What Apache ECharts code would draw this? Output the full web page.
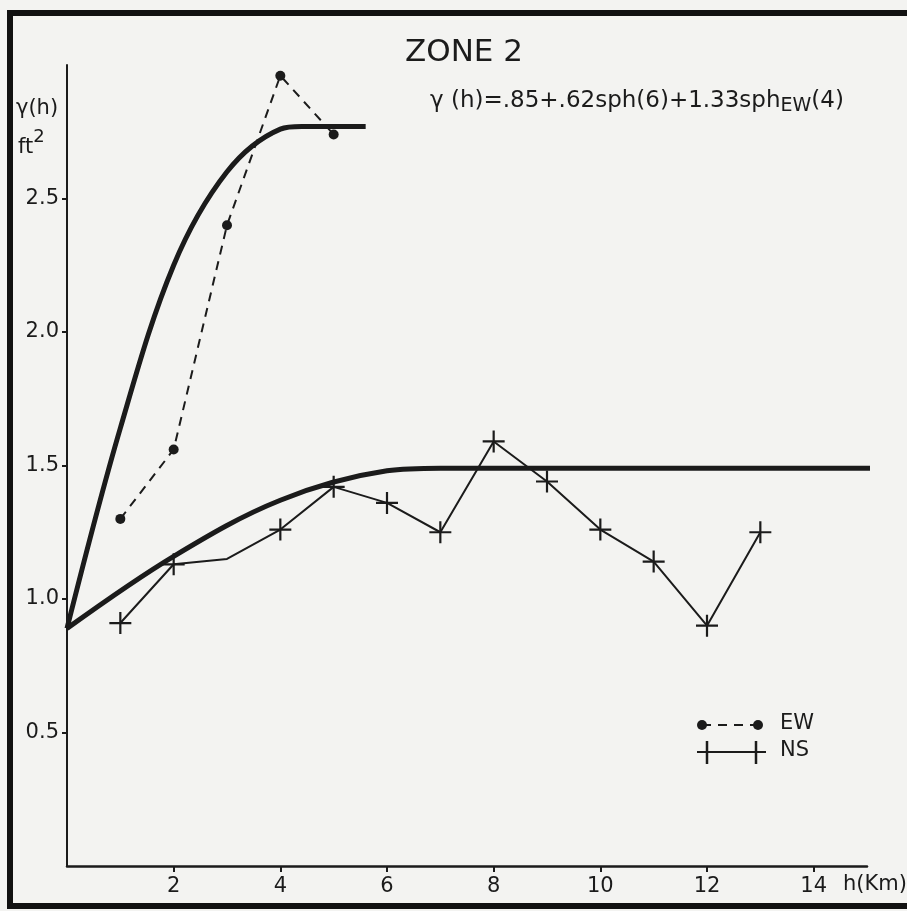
<!DOCTYPE html>
<html>
<head>
<meta charset="utf-8">
<script src="https://cdn.jsdelivr.net/npm/echarts@6/dist/echarts.min.js"></script>
<style>
  html, body { margin: 0; padding: 0; background: #f3f3f1; }
  #chart { width: 907px; height: 911px; }
</style>
</head>
<body>
<div id="chart"></div>
<script>
// lags in km
const ewLags = [1, 2, 3, 4, 5]
const ewValues = [1.30, 1.56, 2.40, 2.96, 2.74]

const nsLags = [1, 2, 3, 4, 5, 6, 7, 8, 9, 10, 11, 12, 13]
const nsValues = [0.91, 1.13, 1.15, 1.26, 1.42, 1.36, 1.25, 1.59, 1.44, 1.26, 1.14, 0.90, 1.25]

// fitted model curves
const ewModelLags = [0, 1, 2, 3, 4, 4.4, 5.6]
const ewModelValues = [0.89, 1.64, 2.25, 2.60, 2.76, 2.77, 2.77]

const nsModelLags = [0, 2, 4, 6, 7, 15.4]
const nsModelValues = [0.89, 1.16, 1.37, 1.48, 1.49, 1.49]

const xTicks = [2, 4, 6, 8, 10, 12, 14]
const yTicks = [0.5, 1.0, 1.5, 2.0, 2.5]

const ink = '#1b1b1b'
const font = 'DejaVu Sans'
const plusPath = 'path://M0,9H20V11H0ZM9,0H11V20H9Z'

const pairs = (xs, ys) => xs.map((x, i) => [x, ys[i]])

const chart = echarts.init(document.getElementById('chart'))

const nsData = pairs(nsLags, nsValues).map((p, i) =>
  nsLags[i] === 3 ? { value: p, symbol: 'none' } : p
)

const option = {
  backgroundColor: '#f3f3f1',
  animation: false,
  grid: { left: 67, right: 40, top: 65, bottom: 45 },
  xAxis: {
    type: 'value',
    min: 0,
    max: 15,
    axisLine: { lineStyle: { color: ink, width: 2.5 } },
    axisTick: { show: true, length: 6, customValues: xTicks, lineStyle: { color: ink, width: 2 } },
    axisLabel: { customValues: xTicks, color: ink, fontFamily: font, fontSize: 21, margin: 10 },
    splitLine: { show: false }
  },
  yAxis: {
    type: 'value',
    min: 0,
    max: 3,
    axisLine: { show: true, lineStyle: { color: ink, width: 2 } },
    axisTick: { show: true, length: 5, customValues: yTicks, lineStyle: { color: ink, width: 2 } },
    axisLabel: {
      customValues: yTicks,
      color: ink, fontFamily: font, fontSize: 21, margin: 8,
      formatter: v => v.toFixed(1)
    },
    splitLine: { show: false }
  },
  series: [
    {
      name: 'EW model',
      type: 'line',
      data: pairs(ewModelLags, ewModelValues),
      smooth: 0.35,
      symbol: 'none',
      lineStyle: { color: ink, width: 5 }
    },
    {
      name: 'NS model',
      type: 'line',
      data: pairs(nsModelLags, nsModelValues),
      smooth: 0.35,
      clip: false,
      symbol: 'none',
      lineStyle: { color: ink, width: 5 }
    },
    {
      name: 'EW',
      type: 'line',
      data: pairs(ewLags, ewValues),
      symbol: 'circle',
      symbolSize: 10,
      itemStyle: { color: ink },
      lineStyle: { color: ink, width: 2, type: [9, 7] }
    },
    {
      name: 'NS',
      type: 'line',
      data: nsData,
      symbol: plusPath,
      symbolSize: 22,
      itemStyle: { color: ink },
      lineStyle: { color: ink, width: 2 }
    }
  ],
  graphic: [
    // frame of the scanned figure
    {
      type: 'rect',
      shape: { x: 10, y: 13, width: 920, height: 893 },
      style: { fill: 'none', stroke: '#111', lineWidth: 6 },
      silent: true
    },
    {
      type: 'text', left: 405, top: 37,
      style: { text: 'ZONE 2', fill: ink, font: '31px "DejaVu Sans"' }
    },
    {
      type: 'text', left: 430, top: 90,
      style: {
        text: '{m|γ (h)=.85+.62sph(6)+1.33sph}{s|EW}{m|(4)}',
        rich: {
          m: { fontFamily: font, fontSize: 23, lineHeight: 26, verticalAlign: 'top', fill: ink },
          s: { fontFamily: font, fontSize: 19, lineHeight: 22, verticalAlign: 'bottom', fill: ink }
        },
        lineHeight: 37
      }
    },
    {
      type: 'text', left: 16, top: 98,
      style: { text: 'γ(h)', fill: ink, font: '21px "DejaVu Sans"' }
    },
    {
      type: 'text', left: 18, top: 128,
      style: { text: '{b|ft}{p|2}', rich: {
        b: { fontFamily: font, fontSize: 21, fill: ink, lineHeight: 30, verticalAlign: 'bottom' },
        p: { fontFamily: font, fontSize: 18, fill: ink, lineHeight: 30, verticalAlign: 'top' }
      } }
    },
    {
      type: 'text', left: 843, top: 874,
      style: { text: 'h(Km)', fill: ink, font: '21px "DejaVu Sans"' }
    },
    // legend
    { type: 'line', shape: { x1: 702, y1: 725, x2: 758, y2: 725 }, style: { stroke: ink, lineWidth: 2, lineDash: [9, 7] } },
    { type: 'circle', shape: { cx: 702, cy: 725, r: 5 }, style: { fill: ink } },
    { type: 'circle', shape: { cx: 758, cy: 725, r: 5 }, style: { fill: ink } },
    { type: 'text', left: 780, top: 713, style: { text: 'EW', fill: ink, font: '21px "DejaVu Sans"' } },
    { type: 'line', shape: { x1: 697, y1: 752, x2: 766, y2: 752 }, style: { stroke: ink, lineWidth: 2 } },
    { type: 'line', shape: { x1: 707, y1: 741, x2: 707, y2: 764 }, style: { stroke: ink, lineWidth: 2.5 } },
    { type: 'line', shape: { x1: 756, y1: 741, x2: 756, y2: 764 }, style: { stroke: ink, lineWidth: 2.5 } },
    { type: 'text', left: 780, top: 740, style: { text: 'NS', fill: ink, font: '21px "DejaVu Sans"' } }
  ]
}

chart.setOption(option)
</script>
</body>
</html>
